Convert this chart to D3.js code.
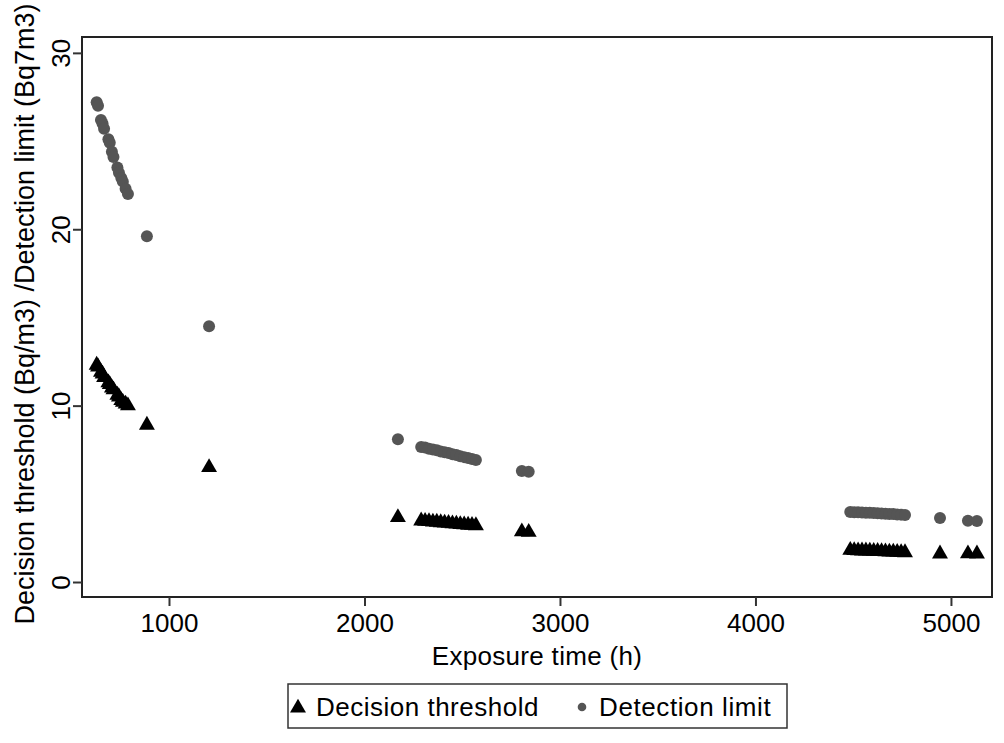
<!DOCTYPE html>
<html>
<head>
<meta charset="utf-8">
<script src="https://cdn.jsdelivr.net/npm/d3@7"></script>
<style>
  body { margin: 0; background: #fff; }
  text { font-family: "Liberation Sans", Arial, sans-serif; fill: #000; }
</style>
</head>
<body>
<div id="chart"></div>
<script>
// exposure time (h) of each measurement
const exposureTime = [630, 637, 652, 660, 668, 690, 697, 708, 716, 736, 744, 756, 764, 778, 790, 887, 1205,
  2171, 2290, 2310, 2330, 2350, 2370, 2390, 2410, 2430, 2450, 2470, 2490, 2510, 2530, 2550, 2570,
  2805, 2840,
  4485, 4505, 4525, 4545, 4565, 4585, 4605, 4625, 4645, 4665, 4685, 4705, 4725, 4745, 4765,
  4944, 5087, 5133];

const decisionThreshold = [12.3, 12.2, 11.9, 11.8, 11.6, 11.3, 11.2, 11.0, 10.9, 10.6, 10.5, 10.3, 10.2, 10.1, 10.0, 8.9, 6.5,
  3.66, 3.47, 3.45, 3.43, 3.41, 3.40, 3.37, 3.35, 3.33, 3.31, 3.29, 3.27, 3.25, 3.23, 3.22, 3.20,
  2.85, 2.82,
  1.80, 1.79, 1.78, 1.77, 1.77, 1.76, 1.75, 1.74, 1.73, 1.72, 1.71, 1.70, 1.69, 1.68, 1.67,
  1.60, 1.61, 1.60];

const detectionLimit = [27.2, 27.0, 26.2, 26.0, 25.7, 25.1, 24.9, 24.4, 24.1, 23.5, 23.2, 22.9, 22.7, 22.3, 22.0, 19.6, 14.5,
  8.1, 7.66, 7.62, 7.55, 7.51, 7.47, 7.40, 7.36, 7.31, 7.24, 7.20, 7.13, 7.08, 7.03, 6.98, 6.92,
  6.30, 6.25,
  3.97, 3.96, 3.95, 3.94, 3.93, 3.92, 3.91, 3.90, 3.89, 3.87, 3.86, 3.85, 3.83, 3.82, 3.80,
  3.63, 3.47, 3.46];

const xTicks = [1000, 2000, 3000, 4000, 5000];
const yTicks = [0, 10, 20, 30];
const legendLabels = ["Decision threshold", "Detection limit"];

const width = 1004, height = 743;
const margin = {left: 82, right: 12, top: 37, bottom: 146};
const fontSize = 26;

const svg = d3.select("#chart").append("svg")
  .attr("width", width)
  .attr("height", height);

const x = d3.scaleLinear().domain([555, 5210]).range([margin.left, width - margin.right]);
const y = d3.scaleLinear().domain([-0.85, 30.9]).range([height - margin.bottom, margin.top]);

const points = exposureTime.map((t, i) => ({t: t, dt: decisionThreshold[i], dl: detectionLimit[i]}));

// frame
svg.append("rect")
  .attr("x", margin.left)
  .attr("y", margin.top)
  .attr("width", width - margin.left - margin.right)
  .attr("height", height - margin.top - margin.bottom)
  .attr("fill", "none")
  .attr("stroke", "#222")
  .attr("stroke-width", 2);

// x axis
const xAxis = svg.append("g")
  .attr("transform", `translate(0,${height - margin.bottom})`)
  .call(d3.axisBottom(x).tickValues(xTicks).tickSize(9).tickPadding(8).tickFormat(d3.format("d")));
xAxis.select(".domain").remove();
xAxis.selectAll("line").attr("stroke", "#333").attr("stroke-width", 2);
xAxis.selectAll("text")
  .attr("font-family", "'Liberation Sans', Arial, sans-serif")
  .attr("font-size", fontSize)
  .attr("fill", "#000");

// y axis
const yAxis = svg.append("g")
  .attr("transform", `translate(${margin.left},0)`)
  .call(d3.axisLeft(y).tickValues(yTicks).tickSize(9).tickFormat(d3.format("d")));
yAxis.select(".domain").remove();
yAxis.selectAll("line").attr("stroke", "#333").attr("stroke-width", 2);
yAxis.selectAll("text")
  .attr("font-family", "'Liberation Sans', Arial, sans-serif")
  .attr("font-size", fontSize)
  .attr("fill", "#000")
  .attr("x", null).attr("dy", null)
  .attr("text-anchor", "middle")
  .attr("transform", "translate(-12,0) rotate(-90)");

// axis titles
svg.append("text")
  .attr("x", (margin.left + width - margin.right) / 2)
  .attr("y", 665)
  .attr("text-anchor", "middle")
  .attr("font-size", fontSize)
  .attr("letter-spacing", 0.3)
  .text("Exposure time (h)");

svg.append("text")
  .attr("transform", `translate(34,${314}) rotate(-90)`)
  .attr("text-anchor", "middle")
  .attr("font-size", 27)
  .text("Decision threshold (Bq/m3) /Detection limit (Bq7m3)");

// markers
const tri = d3.symbol().type(d3.symbolTriangle).size(110);

svg.append("g").selectAll("path")
  .data(points)
  .enter()
  .append("path")
  .attr("d", tri)
  .attr("transform", d => `translate(${x(d.t)},${y(d.dt)})`)
  .attr("fill", "#000");

svg.append("g").selectAll("circle")
  .data(points)
  .enter()
  .append("circle")
  .attr("cx", d => x(d.t))
  .attr("cy", d => y(d.dl))
  .attr("r", 6)
  .attr("fill", "#555");

// legend
const legend = svg.append("g");
legend.append("rect")
  .attr("x", 288).attr("y", 684)
  .attr("width", 499).attr("height", 44)
  .attr("fill", "#fff")
  .attr("stroke", "#333")
  .attr("stroke-width", 1.5);

legend.append("path")
  .attr("d", tri)
  .attr("transform", "translate(298,708)")
  .attr("fill", "#000");
legend.append("text")
  .attr("x", 316).attr("y", 716)
  .attr("font-size", fontSize)
  .attr("letter-spacing", 0.5)
  .text(legendLabels[0]);

legend.append("circle")
  .attr("cx", 582).attr("cy", 707)
  .attr("r", 4.3)
  .attr("fill", "#555");
legend.append("text")
  .attr("x", 599).attr("y", 716)
  .attr("font-size", fontSize)
  .attr("letter-spacing", 0.6)
  .text(legendLabels[1]);
</script>
</body>
</html>
